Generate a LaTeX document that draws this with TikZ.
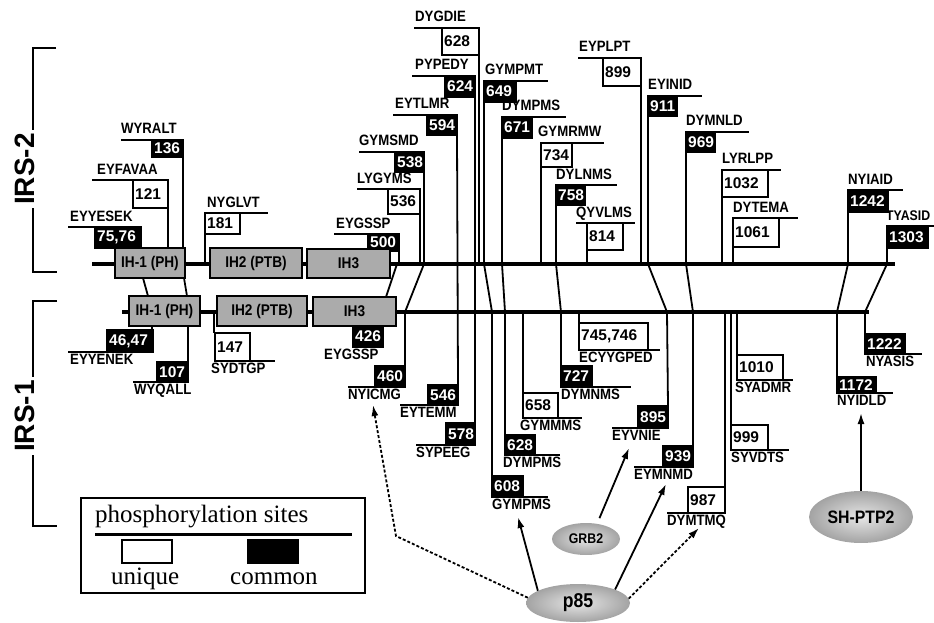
\documentclass[tikz,border=0pt]{standalone}
\usepackage{fontspec}
\setmainfont{Liberation Serif}
\newfontfamily\labfont[FakeStretch=0.88]{Liberation Sans}
\newfontfamily\sansfont{Liberation Sans}
\usetikzlibrary{shapes.geometric,arrows.meta}
\tikzset{
 site/.style={line width=1.8pt},
 bb/.style={line width=3.5pt},
 boxb/.style={draw, fill=black, line width=1.5pt, anchor=north west, inner sep=0pt, outer sep=0pt},
 boxw/.style={draw, fill=white, line width=1.5pt, anchor=north west, inner sep=0pt, outer sep=0pt},
 numb/.style={text=white, font=\sansfont\bfseries\fontsize{15.5}{15.5}\selectfont, inner sep=0pt, anchor=west},
 numw/.style={text=black, font=\sansfont\bfseries\fontsize{15.5}{15.5}\selectfont, inner sep=0pt, anchor=west},
 lab/.style={font=\labfont\bfseries\fontsize{15}{15}\selectfont, inner sep=0pt, anchor=base west},
 dom/.style={draw, line width=1.4pt, fill=black!33, font=\labfont\bfseries\fontsize{15.5}{15.5}\selectfont, anchor=north west, inner sep=0pt, outer sep=0pt},
 ell/.style={ellipse, inner sep=0pt, shading=radial, inner color=gray!20, outer color=gray!72},
 arr/.style={line width=1.8pt, -{Latex[length=11pt,width=7pt]}},
 darr/.style={arr, dash pattern=on 3pt off 2pt},
 irs/.style={font=\sansfont\bfseries\fontsize{28}{28}\selectfont, rotate=90, fill=white, inner sep=3pt},
}
\newcommand{\bx}[7]{%
  \node[box#2, minimum width=#5, minimum height=#6] (#1) at (#3,#4) {};
  \node[num#2] (#1t) at ([xshift=2pt]#1.west) {#7};}
\begin{document}
\begin{tikzpicture}[x=1pt,y=-1pt]
\useasboundingbox (0,0) rectangle (934,623);

% ---------- brackets ----------
\draw[site] (56,48) -- (33,48) -- (33,272) -- (57,272);
\node[irs] (irs2) at (25,169) {IRS-2};
\draw[site] (57,301) -- (33,301) -- (33,526) -- (57,526);
\node[irs] (irs1) at (25,416) {IRS-1};

% ---------- IRS-2 sites ----------
\bx{s7576}{b}{95}{227}{46}{21}{75,76}
\draw[site] (68,227) -- (s7576.north west);
\node[lab] (l7576) at (70,221) {EYYESEK};

\bx{s121}{w}{133}{180}{35}{28}{121}
\draw[site] (92,180) -- (s121.north west);
\draw[site] (s121.south east) -- (168,248);
\node[lab] (l121) at (97,174) {EYFAVAA};

\bx{s136}{b}{152}{140}{31}{17}{136}
\draw[site] (121,140) -- (s136.north west);
\draw[site] (s136.south east) -- (183,248);
\node[lab] (l136) at (121,134) {WYRALT};

\bx{s181}{w}{205}{213}{35}{21}{181}
\draw[site] (s181.north west) -- (268,213);
\draw[site] (s181.south west) -- (205,264);
\node[lab] (l181) at (207,207) {NYGLVT};

\bx{s500}{b}{368}{234}{31}{17}{500}
\draw[site] (334,234) -- (s500.north west);
\draw[line width=1.8pt, fill=white] (s500.south east) rectangle (390,263);
\node[lab] (l500) at (336,228) {EYGSSP};

\bx{s536}{w}{388}{189}{32}{25}{536}
\draw[site] (357,189) -- (s536.north west);
\draw[site] (s536.south east) -- (420,264);
\node[lab] (l536) at (357,183) {LYGYMS};

\bx{s538}{b}{395}{152}{29}{20}{538}
\draw[site] (359,152) -- (s538.north west);
\draw[site] (s538.south east) -- (424,264) -- (405,312);
\node[lab] (l538) at (359,146) {GYMSMD};

\bx{s594}{b}{427}{115}{30}{20}{594}
\draw[site] (393,115) -- (s594.north west);
\node[lab] (l594) at (395,109) {EYTLMR};

\bx{s624}{b}{445}{76}{30}{21}{624}
\draw[site] (412,76) -- (s624.north west);
\node[lab] (l624) at (415,70) {PYPEDY};

\bx{s628}{w}{442}{28}{37}{27}{628}
\draw[site] (414,28) -- (s628.north west);
\draw[site] (s628.south east) -- (479,264);
\node[lab] (l628) at (415,22) {DYGDIE};

\bx{s649}{b}{484}{81}{32}{21}{649}
\draw[site] (s649.north west) -- (548,81);
\draw[site] (s649.south west) -- (484,264) -- (492,312);
\node[lab] (l649) at (485,75) {GYMPMT};

\bx{s671}{b}{502}{117}{30}{21}{671}
\draw[site] (s671.north west) -- (566,117);
\draw[site] (s671.south west) -- (502,264) -- (505,312);
\node[lab] (l671) at (502,111) {DYMPMS};

\bx{s734}{w}{541}{143}{31}{24}{734}
\draw[site] (s734.north west) -- (604,143);
\draw[site] (s734.south west) -- (541,264);
\node[lab] (l734) at (538,137) {GYMRMW};

\bx{s758}{b}{556}{185}{29}{20}{758}
\draw[site] (s758.north west) -- (617,185);
\draw[site] (s758.south west) -- (556,264) -- (561,312);
\node[lab] (l758) at (556,179) {DYLNMS};

\bx{s814}{w}{587}{223}{36}{27}{814}
\draw[site] (576,223) -- (635,223);
\draw[site] (s814.south west) -- (587,264);
\node[lab] (l814) at (576,217) {QYVLMS};

\bx{s899}{w}{603}{58}{38}{28}{899}
\draw[site] (578,58) -- (s899.north east);
\draw[site] (s899.south east) -- (641,264);
\node[lab] (l899) at (579,52) {EYPLPT};

\bx{s911}{b}{648}{96}{29}{20}{911}
\draw[site] (s911.north west) -- (702,96);
\draw[site] (s911.south west) -- (648,264) -- (667,312);
\node[lab] (l911) at (648,90) {EYINID};

\bx{s969}{b}{686}{132}{29}{20}{969}
\draw[site] (s969.north west) -- (749,132);
\draw[site] (s969.south west) -- (686,264) -- (693,312);
\node[lab] (l969) at (686,126) {DYMNLD};

\bx{s1032}{w}{722}{170}{46}{27}{1032}
\draw[site] (s1032.north west) -- (781,170);
\draw[site] (s1032.south west) -- (722,264);
\node[lab] (l1032) at (722,164) {LYRLPP};

\bx{s1061}{w}{733}{218}{46}{29}{1061}
\draw[site] (s1061.north west) -- (798,218);
\draw[site] (s1061.south west) -- (733,264);
\node[lab] (l1061) at (733,212) {DYTEMA};

\bx{s1242}{b}{848}{190}{40}{22}{1242}
\draw[site] (s1242.north west) -- (903,190);
\draw[site] (s1242.south west) -- (848,264) -- (837,312);
\node[lab] (l1242) at (848,184) {NYIAID};

\bx{s1303}{b}{887}{226}{41}{22}{1303}
\draw[site] (s1303.north west) -- (934,226);
\draw[site] (s1303.south west) -- (887,264) -- (865,312);
\node[lab, font=\labfont\bfseries\fontsize{14}{14}\selectfont] (l1303) at (886,220) {TYASID};

% ---------- IRS-1 sites ----------
\bx{s4647}{b}{107}{330}{46}{22}{46,47}
\draw[site] (143,278) -- (148,296);
\draw[site] (152,326) -- (152,330);
\draw[site] (68,352) -- (s4647.south east);
\node[lab] (l4647) at (70,364) {EYYENEK};

\bx{s107}{b}{157}{362}{31}{20}{107}
\draw[site] (184,278) -- (187,296);
\draw[site] (188,326) -- (s107.north east);
\draw[site] (133,382) -- (s107.south east);
\node[lab] (l107) at (134,394) {WYQALL};

\bx{s426}{b}{353}{326}{30}{21}{426}
\draw[site] (397,264) -- (386,297);
\node[lab] (l426) at (324,359) {EYGSSP};

\bx{s147}{w}{215}{333}{35}{28}{147}
\draw[site] (214,312) -- (214,333);
\draw[site] (214,361) -- (275,361);
\node[lab] (l147) at (211,373) {SYDTGP};

\bx{s460}{b}{375}{366}{30}{21}{460}
\draw[site] (405,312) -- (s460.north east);
\draw[site] (348,387) -- (s460.south west);
\node[lab] (l460) at (348,399) {NYICMG};

\bx{s546}{b}{428}{385}{30}{20}{546}
\draw[site] (s594.south east) -- (s546.north east);
\draw[site] (400,405) -- (s546.south west);
\node[lab] (l546) at (400,417) {EYTEMM};

\bx{s578}{b}{446}{423}{29}{22}{578}
\draw[site] (s624.south east) -- (s578.north east);
\draw[site] (416,445) -- (s578.south west);
\node[lab] (l578) at (416,457) {SYPEEG};

\bx{s608}{b}{492}{476}{31}{21}{608}
\draw[site] (492,312) -- (s608.north west);
\draw[site] (s608.south west) -- (548,497);
\node[lab] (l608) at (492,509) {GYMPMS};

\bx{s628b}{b}{505}{435}{30}{20}{628}
\draw[site] (505,312) -- (s628b.north west);
\draw[site] (s628b.south west) -- (560,455);
\node[lab] (l628b) at (503,467) {DYMPMS};

\bx{s658}{w}{523}{393}{35}{25}{658}
\draw[site] (523,312) -- (s658.north west);
\draw[site] (s658.south west) -- (582,418);
\node[lab] (l658) at (520,430) {GYMMMS};

\bx{s727}{b}{561}{366}{31}{21}{727}
\draw[site] (561,312) -- (s727.north west);
\draw[site] (s727.south west) -- (631,387);
\node[lab] (l727) at (561,399) {DYMNMS};

\bx{s745}{w}{579}{323}{69}{27}{745,746}
\draw[site] (579,312) -- (s745.north west);
\draw[site] (s745.south west) -- (660,350);
\node[lab] (l745) at (579,362) {ECYYGPED};

\bx{s895}{b}{638}{406}{30}{22}{895}
\draw[site] (667,312) -- (s895.north east);
\draw[site] (612,428) -- (s895.south east);
\node[lab] (l895) at (612,440) {EYVNIE};

\bx{s939}{b}{663}{446}{30}{21}{939}
\draw[site] (693,312) -- (s939.north east);
\draw[site] (634,467) -- (s939.south east);
\node[lab] (l939) at (634,479) {EYMNMD};

\bx{s987}{w}{688}{487}{37}{26}{987}
\draw[site] (725,312) -- (s987.north east);
\draw[site] (667,513) -- (s987.south east);
\node[lab] (l987) at (667,525) {DYMTMQ};

\bx{s999}{w}{731}{425}{37}{25}{999}
\draw[site] (731,312) -- (s999.north west);
\draw[site] (s999.south west) -- (789,450);
\node[lab] (l999) at (731,462) {SYVDTS};

\bx{s1010}{w}{737}{355}{46}{25}{1010}
\draw[site] (737,312) -- (s1010.north west);
\draw[site] (s1010.south west) -- (793,380);
\node[lab] (l1010) at (735,392) {SYADMR};

\bx{s1172}{b}{837}{377}{39}{16}{1172}
\draw[site] (837,312) -- (s1172.north west);
\draw[site] (s1172.south west) -- (893,393);
\node[lab] (l1172) at (837,405) {NYIDLD};

\bx{s1222}{b}{865}{334}{40}{20}{1222}
\draw[site] (865,312) -- (s1222.north west);
\draw[site] (s1222.south west) -- (922,354);
\node[lab] (l1222) at (866,366) {NYASIS};

% ---------- backbones ----------
\draw[bb] (92,264) -- (895,264);
\draw[bb] (122,312) -- (869,312);

% ---------- domains ----------
\node[dom, minimum width=70, minimum height=30] (d21) at (115,248) {IH-1 (PH)};
\node[dom, minimum width=92, minimum height=30] (d22) at (210,248) {IH2 (PTB)};
\node[dom, minimum width=83, minimum height=29] (d23) at (307,249) {IH3};
\node[dom, minimum width=71, minimum height=30] (d11) at (129,296) {IH-1 (PH)};
\node[dom, minimum width=90, minimum height=30] (d12) at (217,296) {IH2 (PTB)};
\node[dom, minimum width=83, minimum height=29] (d13) at (313,297) {IH3};

% ---------- legend ----------
\node[draw, line width=1.4pt, minimum width=284, minimum height=95, anchor=north west, inner sep=0pt, outer sep=0pt] (leg) at (81,498) {};
\node[font=\fontsize{25}{25}\selectfont, anchor=base west, inner sep=0pt] (legt) at (95,522) {phosphorylation sites};
\draw[line width=3pt] (95,534) -- (352,534);
\node[boxw, minimum width=50, minimum height=23] (legw) at (122,540) {};
\node[boxb, minimum width=50, minimum height=23] (legb) at (248,540) {};
\node[font=\fontsize{25}{25}\selectfont, anchor=base west, inner sep=0pt] (legu) at (111,584) {unique};
\node[font=\fontsize{25}{25}\selectfont, anchor=base west, inner sep=0pt] (legc) at (230,584) {common};

% ---------- binding proteins ----------
\node[ell, minimum width=104, minimum height=38, font=\labfont\bfseries\fontsize{20}{20}\selectfont] (p85) at (578,603) {p85};
\node[ell, minimum width=68, minimum height=32, font=\labfont\bfseries\fontsize{14}{14}\selectfont] (grb2) at (586,539) {GRB2};
\node[ell, minimum width=104, minimum height=52, font=\labfont\bfseries\fontsize{18}{18}\selectfont] (shp) at (861,517) {SH-PTP2};

\coordinate (t460) at (373,405);
\coordinate (k460) at (396,536);
\coordinate (t608) at (518,517);
\coordinate (t939) at (666,484);
\coordinate (t987) at (699,528);
\coordinate (t895) at (629,448);
\coordinate (t1172) at (861,413);

\draw[darr] (p85.174) -- (k460) -- (t460);
\draw[arr] (p85.163) -- (t608);
\draw[arr] (p85.20) -- (t939);
\draw[darr] (p85.5) -- (t987);
\draw[arr, shorten <=6pt] (grb2.54) -- (t895);
\draw[arr] (shp.north) -- (t1172);
\end{tikzpicture}
\end{document}
